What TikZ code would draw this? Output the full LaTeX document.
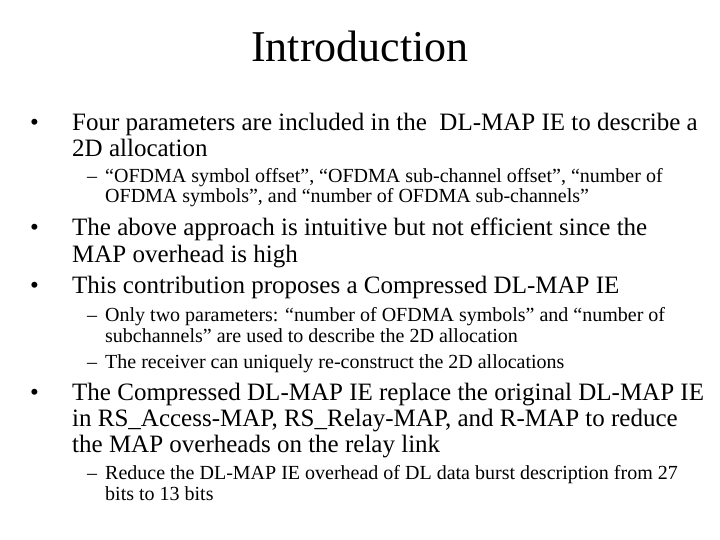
\documentclass[tikz,border=0pt]{standalone}
\usepackage{fontspec}
\setmainfont{Liberation Serif}
\begin{document}
\begin{tikzpicture}[x=1pt,y=-1pt,
  big/.style={anchor=base west,inner sep=0pt,font=\fontsize{25}{30}\selectfont},
  small/.style={anchor=base west,inner sep=0pt,font=\fontsize{20}{24}\selectfont}]
\useasboundingbox[fill=white] (0,0) rectangle (720,540);
\node[anchor=base,inner sep=0pt,font=\fontsize{44}{50}\selectfont] (title) at (360,62) {Introduction};
\node[big] (b1) at (30,131) {•};
\node[big] (l1) at (72,131) {Four parameters are included in the\ \ DL-MAP IE to describe a};
\node[big] (l2) at (72,157) {2D allocation};
\node[small] (d1) at (87,183) {–};
\node[small] (s1) at (105,183) {“OFDMA symbol offset”, “OFDMA sub-channel offset”, “number of};
\node[small] (s2) at (105,203) {OFDMA symbols”, and “number of OFDMA sub-channels”};
\node[big] (b2) at (30,236) {•};
\node[big] (l3) at (72,236) {The above approach is intuitive but not efficient since the};
\node[big] (l4) at (72,262) {MAP overhead is high};
\node[big] (b3) at (30,293) {•};
\node[big] (l5) at (72,293) {This contribution proposes a Compressed DL-MAP IE};
\node[small] (d2) at (87,321) {–};
\node[small] (s3) at (105,321) {Only two parameters: “number of OFDMA symbols” and “number of};
\node[small] (s4) at (105,342) {subchannels” are used to describe the 2D allocation};
\node[small] (d3) at (87,368) {–};
\node[small] (s5) at (105,368) {The receiver can uniquely re-construct the 2D allocations};
\node[big] (b4) at (30,400) {•};
\node[big] (l6) at (72,400) {The Compressed DL-MAP IE replace the original DL-MAP IE};
\node[big] (l7) at (72,426) {in RS\_Access-MAP, RS\_Relay-MAP, and R-MAP to reduce};
\node[big] (l8) at (72,452) {the MAP overheads on the relay link};
\node[small] (d4) at (87,479) {–};
\node[small] (s6) at (105,479) {Reduce the DL-MAP IE overhead of DL data burst description from 27};
\node[small] (s7) at (105,500) {bits to 13 bits};
\end{tikzpicture}
\end{document}
